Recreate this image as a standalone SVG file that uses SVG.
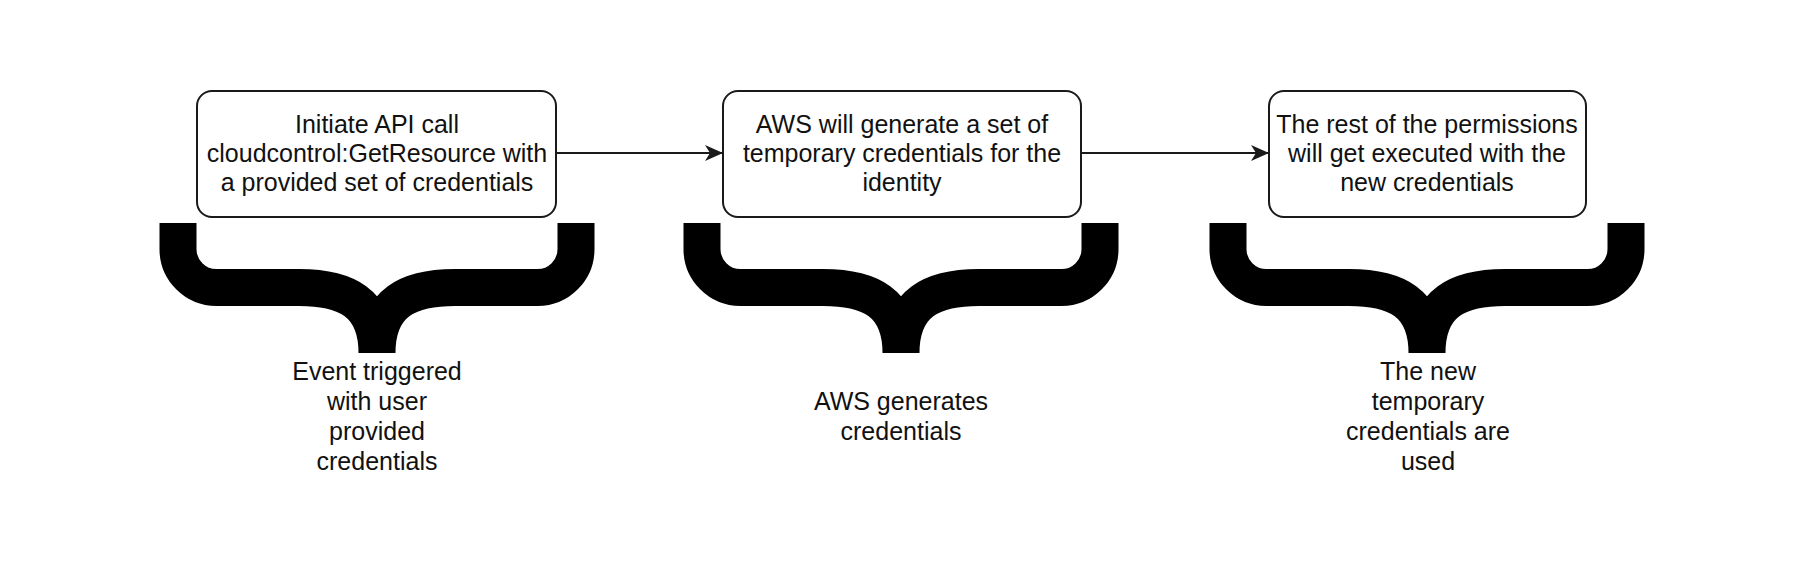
<svg xmlns="http://www.w3.org/2000/svg" xmlns:xlink="http://www.w3.org/1999/xlink" width="1800" height="570" viewBox="0 0 1800 570">
  <style>
    .box { fill: #ffffff; stroke: #1a1a1a; stroke-width: 2; }
    .txt { font-family: "Liberation Sans", Arial, sans-serif; font-size: 25px; fill: #111111; text-anchor: middle; }
    .edge { fill: none; stroke: #1a1a1a; stroke-width: 2; }
    .brace { fill: none; stroke: #000000; stroke-width: 37; stroke-linecap: butt; stroke-linejoin: miter; }
  </style>
  <defs>
    <marker id="arrow" markerUnits="userSpaceOnUse" markerWidth="20" markerHeight="18" refX="18" refY="8" orient="auto">
      <path d="M0,0 L18,8 L0,16 L5,8 Z" fill="#1a1a1a"/>
    </marker>
    <path id="brace-shape" class="brace" d="M-199,223 V249 A38.5,38.5 0 0 0 -160.5,287.5 H-78 C-32,287.5 0,302 0,353 M199,223 V249 A38.5,38.5 0 0 1 160.5,287.5 H78 C32,287.5 0,302 0,353"/>
  </defs>
  <rect width="1800" height="570" fill="#ffffff"/>

  <g id="connectors">
    <line class="edge" x1="556" y1="153" x2="723" y2="153" marker-end="url(#arrow)"/>
    <line class="edge" x1="1081" y1="153" x2="1269" y2="153" marker-end="url(#arrow)"/>
  </g>

  <g id="node-1">
    <rect class="box" x="197" y="91" width="359" height="126" rx="15" ry="15"/>
    <text class="txt" x="377" y="133">Initiate API call</text>
    <text class="txt" x="377" y="162">cloudcontrol:GetResource with</text>
    <text class="txt" x="377" y="191">a provided set of credentials</text>
  </g>

  <g id="node-2">
    <rect class="box" x="723" y="91" width="358" height="126" rx="15" ry="15"/>
    <text class="txt" x="902" y="133">AWS will generate a set of</text>
    <text class="txt" x="902" y="162">temporary credentials for the</text>
    <text class="txt" x="902" y="191">identity</text>
  </g>

  <g id="node-3">
    <rect class="box" x="1269" y="91" width="317" height="126" rx="15" ry="15"/>
    <text class="txt" x="1427" y="133">The rest of the permissions</text>
    <text class="txt" x="1427" y="162">will get executed with the</text>
    <text class="txt" x="1427" y="191">new credentials</text>
  </g>

  <g id="brace-1"><use xlink:href="#brace-shape" href="#brace-shape" transform="translate(377,0)"/></g>
  <g id="brace-2"><use xlink:href="#brace-shape" href="#brace-shape" transform="translate(901,0)"/></g>
  <g id="brace-3"><use xlink:href="#brace-shape" href="#brace-shape" transform="translate(1427,0)"/></g>

  <g id="label-1">
    <text class="txt" x="377" y="380">Event triggered</text>
    <text class="txt" x="377" y="410">with user</text>
    <text class="txt" x="377" y="440">provided</text>
    <text class="txt" x="377" y="470">credentials</text>
  </g>

  <g id="label-2">
    <text class="txt" x="901" y="410">AWS generates</text>
    <text class="txt" x="901" y="440">credentials</text>
  </g>

  <g id="label-3">
    <text class="txt" x="1428" y="380">The new</text>
    <text class="txt" x="1428" y="410">temporary</text>
    <text class="txt" x="1428" y="440">credentials are</text>
    <text class="txt" x="1428" y="470">used</text>
  </g>
</svg>
